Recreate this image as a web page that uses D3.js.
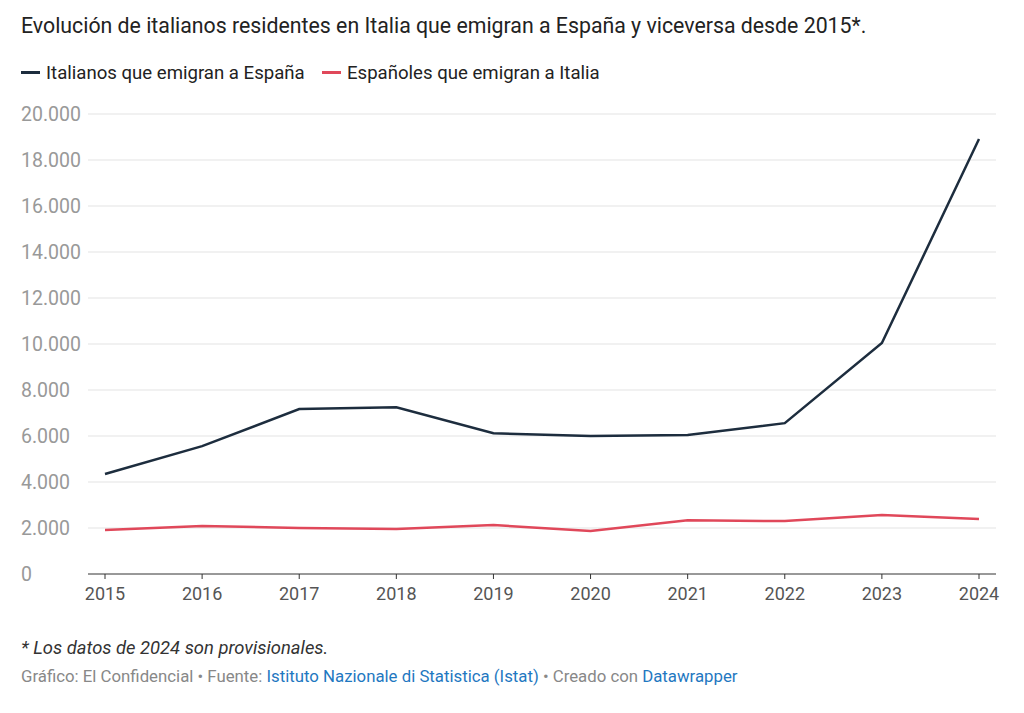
<!DOCTYPE html>
<html><head><meta charset="utf-8">
<script src="https://cdn.jsdelivr.net/npm/d3@7"></script>
<style>body{margin:0;background:#fff;font-family:Roboto,"Noto Sans",sans-serif;}</style>
</head><body><svg id="c" width="1024" height="713"></svg>
<script>
const years=[2015,2016,2017,2018,2019,2020,2021,2022,2023,2024];
const italianos=[4350,5560,7170,7250,6120,6000,6040,6560,10040,18910];
const espanoles=[1910,2090,2000,1960,2130,1870,2340,2300,2560,2390];
const yTicks=[0,2000,4000,6000,8000,10000,12000,14000,16000,18000,20000];
const svg=d3.select("#c");
const x=d3.scaleLinear().domain([2015,2024]).range([105,979]);
const y=d3.scaleLinear().domain([0,20000]).range([574,114]);
const fmt=d3.formatLocale({decimal:",",thousands:".",grouping:[3],currency:["","€"]}).format(",");
svg.append("text").attr("x",21).attr("y",33).attr("font-size",21.3).attr("fill","#222").text("Evolución de italianos residentes en Italia que emigran a España y viceversa desde 2015*.");
const leg=[["Italianos que emigran a España","#1d2d3e",21],["Españoles que emigran a Italia","#e0485a",322]];
leg.forEach(l=>{svg.append("rect").attr("x",l[2]).attr("y",71).attr("width",19).attr("height",3).attr("fill",l[1]);
svg.append("text").attr("x",l[2]+25).attr("y",79).attr("font-size",18.6).attr("fill","#222").text(l[0]);});
const g=svg.append("g");
yTicks.forEach(t=>{
 g.append("line").attr("x1",88).attr("x2",996).attr("y1",y(t)).attr("y2",y(t)).attr("stroke",t===0?"#333":"#e3e3e3").attr("stroke-width",1);
 g.append("text").attr("x",21).attr("y",y(t)+7).attr("font-size",19.5).attr("fill","#999").text(t===0?"0":fmt(t));
});
years.forEach(yr=>{
 g.append("line").attr("x1",x(yr)).attr("x2",x(yr)).attr("y1",574).attr("y2",579).attr("stroke","#333");
 g.append("text").attr("x",x(yr)).attr("y",600).attr("text-anchor","middle").attr("font-size",18).attr("fill","#555").text(yr);
});
const line=d3.line().x((d,i)=>x(years[i])).y(d=>y(d));
g.append("path").datum(espanoles).attr("d",line).attr("fill","none").attr("stroke","#e0485a").attr("stroke-width",2.5);
g.append("path").datum(italianos).attr("d",line).attr("fill","none").attr("stroke","#1d2d3e").attr("stroke-width",2.5);
svg.append("text").attr("x",21).attr("y",654).attr("font-size",18.4).attr("font-style","italic").attr("fill","#333").text("* Los datos de 2024 son provisionales.");
const s=svg.append("text").attr("x",21).attr("y",682).attr("font-size",16.8).attr("fill","#888");
s.append("tspan").text("Gráfico: El Confidencial • Fuente: ");
s.append("tspan").attr("fill","#1f78c1").text("Istituto Nazionale di Statistica (Istat)");
s.append("tspan").text(" • Creado con ");
s.append("tspan").attr("fill","#1f78c1").text("Datawrapper");
</script></body></html>
